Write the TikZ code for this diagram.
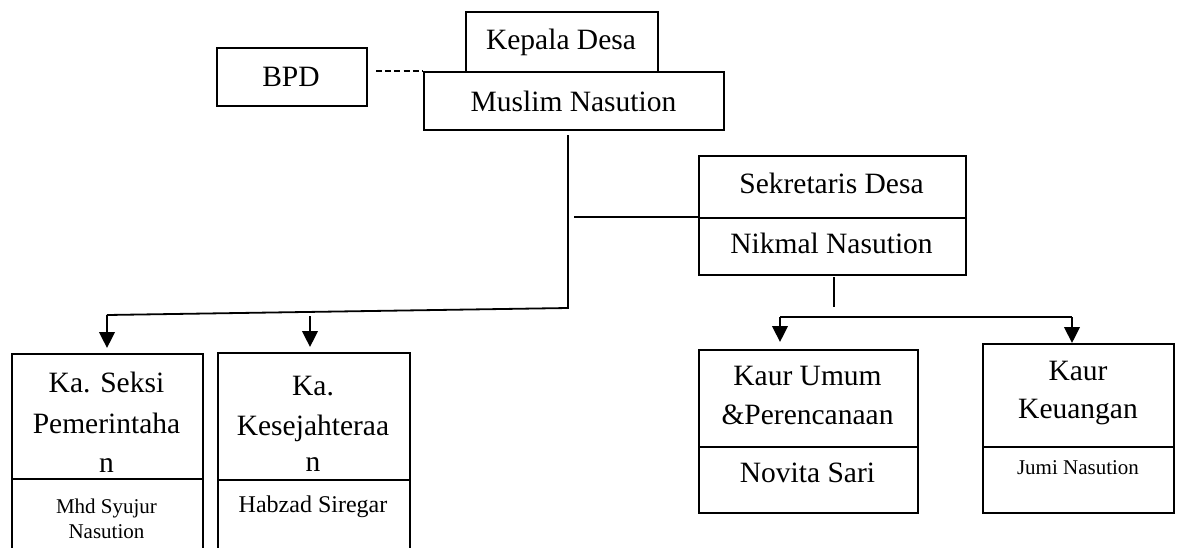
\documentclass[tikz,border=0pt]{standalone}
\usepackage{fontspec}
\setmainfont{Liberation Serif}
\usetikzlibrary{arrows.meta}
\tikzset{
  box/.style={draw, line width=0.9pt, inner sep=0pt, anchor=north west},
  lbl/.style={anchor=base, inner sep=0pt, font=\fontsize{14.75}{17}\selectfont},
  lblm/.style={anchor=base, inner sep=0pt, font=\fontsize{12}{14}\selectfont},
  lbls/.style={anchor=base, inner sep=0pt, font=\fontsize{10.5}{12}\selectfont},
  link/.style={line width=0.9pt},
  arr/.style={line width=0.9pt, -{Triangle[length=8pt,width=7.8pt]}},
}
\begin{document}
\begin{tikzpicture}[x=0.5pt, y=-0.5pt]
\useasboundingbox (0,0) rectangle (1179,547);
% boxes
\node[box, minimum width=96pt, minimum height=30pt] (kd) at (465,11) {};
\node[box, minimum width=75pt, minimum height=29pt] (bpd) at (216,47) {};
\node[box, minimum width=150pt, minimum height=29pt] (mn) at (423,71) {};
\node[box, minimum width=133.5pt, minimum height=31pt] (sd) at (698,155) {};
\node[box, minimum width=133.5pt, minimum height=28.5pt] (nn) at (698,217) {};
\node[box, minimum width=95.5pt, minimum height=62.5pt] (ks) at (11,353) {};
\node[box, minimum width=95.5pt, minimum height=40pt] (ksn) at (11,478) {};
\node[box, minimum width=96pt, minimum height=63.5pt] (kk) at (217,352) {};
\node[box, minimum width=96pt, minimum height=40pt] (kkn) at (217,479) {};
\node[box, minimum width=109.5pt, minimum height=48.5pt] (ku) at (698,349) {};
\node[box, minimum width=109.5pt, minimum height=33pt] (kun) at (698,446) {};
\node[box, minimum width=95.5pt, minimum height=51.5pt] (kg) at (982,343) {};
\node[box, minimum width=95.5pt, minimum height=33pt] (kgn) at (982,446) {};
% texts
\node[lbl] (tkd) at (561,49) {Kepala Desa};
\node[lbl] (tbpd) at (291,86) {BPD};
\node[lbl] (tmn) at (573.5,111) {Muslim Nasution};
\node[lbl] (tsd) at (831.5,193) {Sekretaris Desa};
\node[lbl] (tnn) at (831.5,253) {Nikmal Nasution};
\node[lbl] (tks1) at (106.5,392) {Ka. Seksi};
\node[lbl] (tks2) at (106.5,433) {Pemerintaha};
\node[lbl] (tks3) at (106.5,472) {n};
\node[lbls] (tksn1) at (106.5,513) {Mhd Syujur};
\node[lbls] (tksn2) at (106.5,538) {Nasution};
\node[lbl] (tkk1) at (313,395) {Ka.};
\node[lbl] (tkk2) at (313,435) {Kesejahteraa};
\node[lbl] (tkk3) at (313,471) {n};
\node[lblm] (tkkn) at (313,512) {Habzad Siregar};
\node[lbl] (tku1) at (807.5,385) {Kaur Umum};
\node[lbl] (tku2) at (807.5,424) {\&Perencanaan};
\node[lbl] (tkun) at (807.5,482) {Novita Sari};
\node[lbl] (tkg1) at (1078,380) {Kaur};
\node[lbl] (tkg2) at (1078,418) {Keuangan};
\node[lbls] (tkgn) at (1078,474) {Jumi Nasution};
% connector coordinates
\coordinate (d0) at (376,71);
\coordinate (a1) at (568,135);
\coordinate (a2) at (568,308);
\coordinate (a3) at (107,315);
\coordinate (a4) at (310,316);
\coordinate (b1) at (574,217);
\coordinate (c1) at (834,277);
\coordinate (c2) at (834,307);
\coordinate (e1) at (780,317);
\coordinate (e2) at (1072,317);
% connectors
\draw[link, dash pattern=on 3pt off 1.6pt] (d0) -- (mn.north west);
\draw[link] (a1) -- (a2) -- (a3);
\draw[arr, shorten >=2.5pt] (a3) -- (a3 |- ks.north);
\draw[arr, shorten >=2.5pt] (a4) -- (a4 |- kk.north);
\draw[link] (b1) -- (nn.north west);
\draw[link] (c1) -- (c2);
\draw[link] (e1) -- (e2);
\draw[arr, shorten >=3.5pt] (e1) -- (e1 |- ku.north);
\draw[arr] (e2) -- (e2 |- kg.north);
\end{tikzpicture}
\end{document}
